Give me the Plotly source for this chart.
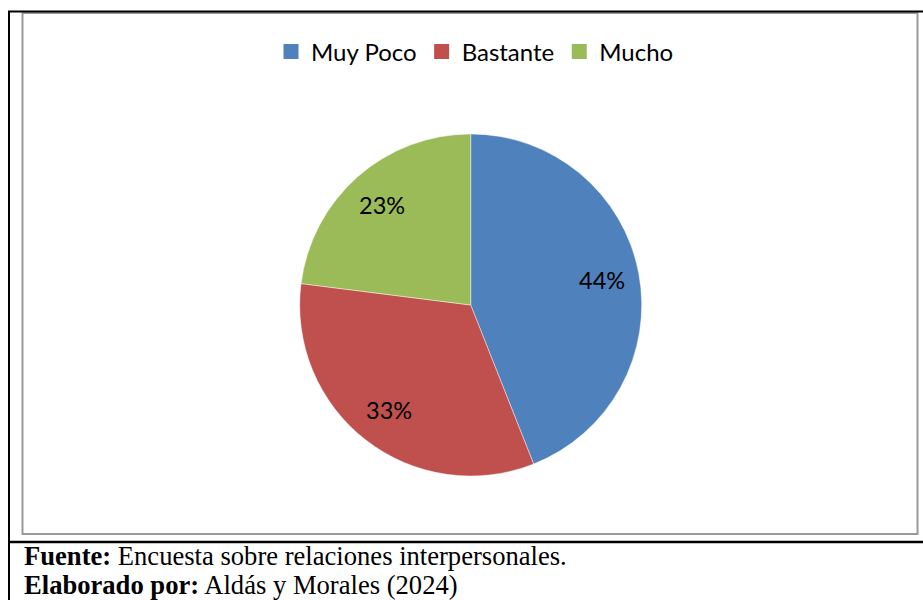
import math
import plotly.graph_objects as go

# Survey answers and their shares (%)
categories = ["Muy Poco", "Bastante", "Mucho"]
shares = [44, 33, 23]
colors = ["#4F81BD", "#C0504D", "#9BBB59"]

W, H = 923, 600

def px_x(v):
    return v / W

def px_y(v):
    return 1 - v / H

# pie geometry (pixels)
cx, cy, r = 470.7, 305.0, 171.0

fig = go.Figure()
fig.add_trace(go.Pie(
    labels=categories,
    values=shares,
    sort=False,
    direction="clockwise",
    rotation=0,
    marker=dict(colors=colors, line=dict(color="rgba(255,255,255,0.55)", width=0.8)),
    textinfo="none",
    hoverinfo="label+percent",
    domain=dict(x=[px_x(cx - r), px_x(cx + r)], y=[px_y(cy + r), px_y(cy - r)]),
    showlegend=False,
))

# legend entries with square swatches
for name, c in zip(categories, colors):
    fig.add_trace(go.Scatter(
        x=[None], y=[None], mode="markers", name=name,
        marker=dict(symbol="square", size=15, color=c, line=dict(width=0)),
        showlegend=True, hoverinfo="skip",
    ))

# percentage labels placed at each slice's mid-angle
annotations = []
total = sum(shares)
acc = 0
for name, v in zip(categories, shares):
    mid = (acc + v / 2) / total * 2 * math.pi
    acc += v
    k = 0.78
    lx = cx + k * r * math.sin(mid)
    ly = cy - k * r * math.cos(mid)
    annotations.append(dict(
        x=px_x(lx), y=px_y(ly), xref="paper", yref="paper",
        text=f"{v}%", showarrow=False, xanchor="center", yanchor="middle",
        font=dict(family="Lato", size=23.5, color="#000000"),
    ))

# source notes under the frame
serif = dict(family="Liberation Serif", size=26.6, color="#000000")
annotations.append(dict(
    x=px_x(22), y=px_y(556), xref="paper", yref="paper", xanchor="left", yanchor="middle",
    text="<b>Fuente:</b> Encuesta sobre relaciones interpersonales.", showarrow=False, font=serif,
))
annotations.append(dict(
    x=px_x(22), y=px_y(585), xref="paper", yref="paper", xanchor="left", yanchor="middle",
    text="<b>Elaborado por:</b> Aldás y Morales (2024)", showarrow=False, font=serif,
))

shapes = [
    # chart frame (grey)
    dict(type="rect", xref="paper", yref="paper",
         x0=px_x(22.5), x1=px_x(917.5), y0=px_y(534), y1=px_y(13),
         line=dict(color="#9a9a9a", width=2)),
    # table borders (black)
    dict(type="line", xref="paper", yref="paper",
         x0=px_x(8), x1=px_x(923), y0=px_y(11.5), y1=px_y(11.5),
         line=dict(color="#000000", width=2)),
    dict(type="line", xref="paper", yref="paper",
         x0=px_x(9), x1=px_x(9), y0=px_y(11), y1=px_y(600),
         line=dict(color="#000000", width=2)),
    dict(type="line", xref="paper", yref="paper",
         x0=px_x(8), x1=px_x(923), y0=px_y(542), y1=px_y(542),
         line=dict(color="#000000", width=2.5)),
]

fig.update_layout(
    width=W, height=H,
    margin=dict(l=0, r=0, t=0, b=0),
    paper_bgcolor="white", plot_bgcolor="rgba(0,0,0,0)",
    xaxis=dict(visible=False),
    yaxis=dict(visible=False),
    showlegend=True,
    legend=dict(
        orientation="h", x=px_x(475), xanchor="center", y=px_y(52), yanchor="middle",
        font=dict(family="Lato", size=24, color="#000000"),
        bgcolor="rgba(0,0,0,0)", itemsizing="trace",
    ),
    annotations=annotations,
    shapes=shapes,
)

fig.write_html("out.html")
